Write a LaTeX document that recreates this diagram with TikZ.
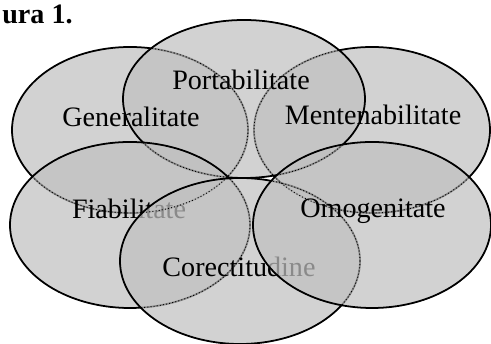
\documentclass[tikz,border=0pt]{standalone}
\usepackage{fontspec}
\setmainfont{Liberation Serif}
\usepackage{xcolor}
\definecolor{shade}{HTML}{C0C0C0}

\begin{document}
\begin{tikzpicture}[x=0.02cm, y=0.02cm,
  font=\fontsize{16}{19}\selectfont,
  lens/.style={fill=shade, fill opacity=0.72, draw=black, line width=1pt},
  hid/.style={draw=black, line width=0.5pt, dash pattern=on 0.6pt off 1.2pt},
  lbl/.style={anchor=base, inner sep=0pt}]
\useasboundingbox (0,0) rectangle (491,344);
\coordinate (g) at (130,214);
\coordinate (m) at (372,214);
\coordinate (p) at (244,245);
\coordinate (f) at (130,119);
\coordinate (c) at (240,83);
\coordinate (o) at (372,119);
% upper row
\path[lens] (g) ellipse [x radius=118, y radius=83];
\path[lens] (m) ellipse [x radius=118, y radius=83];
\path[lens] (p) ellipse [x radius=121, y radius=79];
\node[lbl] (gen) at (131,217) {Generalitate};
\node[lbl] (port) at (241,254) {Portabilitate};
\node[lbl] (ment) at (373,219) {Mentenabilitate};
% lower row
\path[lens] (f) ellipse [x radius=120, y radius=83];
\node[lbl] (fiab) at (129,125) {Fiabilitate};
\path[lens] (c) ellipse [x radius=120, y radius=83];
\node[lbl] (corect) at (239,67) {Corectitudine};
\path[lens] (o) ellipse [x radius=119, y radius=83];
\node[lbl] (omog) at (373,126) {Omogenitate};
% hidden edges
\foreach \e/\rx/\ry in {g/118/83, m/118/83, p/121/79, f/120/83, c/120/83, o/119/83}
  \draw[hid] (\e) ellipse [x radius=\rx, y radius=\ry];
\node[anchor=base west, inner sep=0pt, font=\fontsize{16}{19}\selectfont\bfseries] (fig) at (2,320) {ura 1.};
\end{tikzpicture}
\end{document}
